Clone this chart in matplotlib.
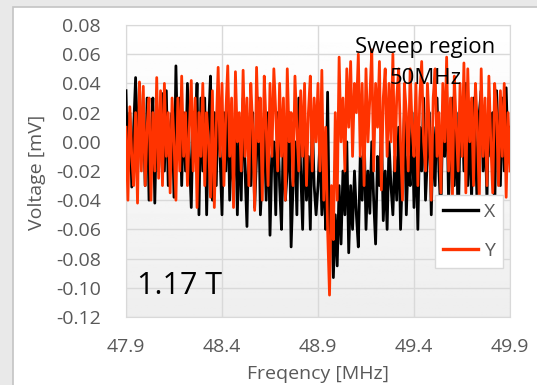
import numpy as np
import matplotlib.pyplot as plt
from matplotlib.patches import Rectangle

plt.rcParams['font.family'] = ['Open Sans', 'DejaVu Sans']

# frequency axis, 10 kHz steps
freq = np.round(np.arange(47.9, 49.9001, 0.01), 2)

x_sig = [
    0.035, -0.02, 0.02, -0.031, 0.01, 0.044, -0.025, 0.04, -0.01, 0.02,
    -0.03, 0.03, -0.04, 0.00, 0.03, -0.042, 0.02, -0.02, 0.01, 0.033,
    -0.02, 0.035, -0.03, 0.01, 0.02, -0.038, 0.052, -0.01, 0.03, -0.03,
    0.02, -0.02, 0.04, -0.01, -0.045, 0.02, 0.00, 0.04, -0.05, 0.03,
    -0.02, 0.03, -0.05, 0.01, 0.045, -0.04, 0.02, -0.03, 0.03, -0.01,
    -0.05, 0.02, -0.02, 0.03, -0.04, 0.00, -0.03, 0.02, -0.05, 0.01,
    -0.04, 0.03, -0.02, -0.058, 0.01, -0.03, 0.02, -0.045, -0.01, 0.03,
    -0.05, -0.02, 0.01, -0.04, 0.02, -0.064, -0.01, 0.00, -0.05, 0.02,
    -0.03, -0.06, 0.01, -0.04, -0.02, 0.02, -0.072, -0.03, 0.00, -0.05,
    0.03, -0.02, -0.06, 0.01, -0.04, -0.01, -0.06, 0.02, -0.03, -0.05,
    -0.03, 0.00, -0.05, -0.02, -0.06, 0.034, -0.07, -0.04, -0.093, -0.05,
    -0.085, -0.03, -0.07, -0.02, -0.05, 0.00, -0.076, -0.03, -0.06, -0.02,
    -0.05, -0.072, -0.01, -0.04, 0.01, -0.06, -0.02, -0.049, 0.00, -0.04,
    -0.07, -0.01, -0.03, 0.01, -0.054, -0.02, -0.06, 0.00, -0.03, -0.05,
    -0.01, -0.04, 0.01, -0.06, -0.02, 0.02, -0.05, -0.01, -0.03, 0.02,
    -0.045, 0.00, -0.06, 0.01, -0.02, 0.03, -0.04, -0.01, 0.02, -0.05,
    0.01, -0.03, 0.03, -0.02, -0.05, 0.02, -0.01, 0.035, -0.04, 0.00,
    0.03, -0.03, 0.02, -0.06, 0.01, 0.03, -0.02, 0.04, -0.03, 0.01,
    -0.04, 0.03, 0.00, -0.05, 0.02, 0.035, -0.02, 0.01, -0.04, 0.03,
    -0.01, 0.02, -0.05, 0.035, 0.00, -0.03, 0.03, -0.02, 0.037, -0.01,
    0.01,
]

y_sig = [
    0.01, -0.04, 0.024, -0.01, -0.03, 0.02, -0.042, 0.041, -0.02, 0.038,
    -0.03, 0.01, 0.03, -0.04, 0.02, -0.02, 0.044, -0.025, 0.035, -0.03,
    0.04, -0.01, 0.02, -0.035, 0.03, 0.00, -0.04, 0.03, -0.02, 0.045,
    -0.01, 0.02, -0.03, 0.01, 0.042, -0.02, 0.03, -0.045, 0.02, -0.01,
    0.04, -0.03, 0.02, 0.00, -0.038, 0.035, -0.045, 0.01, 0.051, -0.01,
    0.04, -0.03, 0.02, 0.052, -0.01, 0.03, -0.045, 0.048, 0.00, 0.02,
    -0.02, 0.049, -0.01, 0.03, -0.03, 0.04, 0.01, -0.047, 0.051, 0.00,
    0.03, -0.04, 0.045, 0.01, -0.03, 0.04, -0.01, 0.05, 0.02, -0.02,
    0.04, -0.01, 0.03, -0.04, 0.05, 0.00, 0.02, -0.03, 0.045, 0.01,
    -0.02, 0.035, -0.01, 0.04, -0.03, 0.02, 0.045, -0.02, 0.03, 0.00,
    0.04, -0.02, 0.049, -0.04, 0.01, -0.06, -0.105, -0.03, -0.067, 0.02,
    -0.04, 0.058, 0.00, 0.03, -0.02, 0.05, 0.01, 0.055, -0.01, 0.04,
    0.02, 0.06, -0.01, 0.04, -0.03, 0.05, 0.00, 0.03, 0.063, -0.02,
    0.04, 0.01, 0.055, -0.033, 0.03, 0.05, -0.01, 0.04, 0.00, 0.06,
    -0.02, 0.03, 0.05, 0.00, -0.04, 0.04, 0.02, -0.02, 0.05, 0.01,
    -0.01, 0.04, -0.03, 0.03, 0.055, 0.00, -0.02, 0.04, 0.01, -0.04,
    0.03, 0.05, -0.01, 0.02, -0.035, 0.04, 0.00, 0.058, -0.02, 0.03,
    -0.04, 0.045, 0.01, -0.02, 0.04, -0.01, 0.054, -0.035, 0.05, 0.00,
    0.03, -0.03, 0.04, 0.01, -0.04, 0.05, -0.01, 0.03, -0.03, 0.045,
    0.00, -0.035, 0.04, 0.02, -0.03, 0.035, -0.01, 0.04, -0.038, 0.02,
    -0.02,
]

x_ticks = [47.9, 48.4, 48.9, 49.4, 49.9]
y_ticks = [-0.12, -0.10, -0.08, -0.06, -0.04, -0.02, 0.00, 0.02, 0.04, 0.06, 0.08]

W, H = 537, 385
fig = plt.figure(figsize=(W / 100, H / 100), dpi=100, facecolor='#e9e9e9')

# white chart frame, kept behind the axes
fig.patches.append(Rectangle((13 / W, -0.01), 1, 1.01 - 7 / H, transform=fig.transFigure,
                             facecolor='white', edgecolor='#c4c4c4', lw=1.2, zorder=-10))

ax = fig.add_axes([126 / W, 1 - 317 / H, (510 - 126) / W, (317 - 25) / H])
ax.patch.set_alpha(0)

# plot-area shading, white at the top fading to light grey
grad = np.linspace(1.0, 0.0, 256).reshape(-1, 1)
ax.imshow(grad, extent=[47.9, 49.9, -0.12, 0.08], aspect='auto', cmap='gray',
          vmin=-14, vmax=1, zorder=0, origin='upper')

ax.plot(freq, x_sig, color='black', lw=2.0, label='X', zorder=3)
ax.plot(freq, y_sig, color='#ff3300', lw=2.0, label='Y', zorder=4)

ax.set_xlim(47.9, 49.9)
ax.set_ylim(-0.12, 0.08)
ax.set_xticks(x_ticks)
ax.set_xticklabels([f'{t:.1f}' for t in x_ticks])
ax.set_yticks(y_ticks)
ax.set_yticklabels([f'{t:.2f}' for t in y_ticks])
ax.grid(True, color='#d9d9d9', lw=1, zorder=1)
ax.set_axisbelow(True)
ax.tick_params(length=0, labelsize=14, colors='#595959')
ax.tick_params(axis='y', pad=18)
ax.tick_params(axis='x', pad=15)
for s in ax.spines.values():
    s.set_color('#d9d9d9')

fig.text(318 / W, 1 - 374 / H, 'Freqency [MHz]', ha='center', va='center',
         fontsize=14, color='#595959')
fig.text(37 / W, 1 - 172 / H, 'Voltage [mV]', ha='center', va='center',
         rotation=90, fontsize=14, color='#595959')

fig.text(425 / W, 1 - 47 / H, 'Sweep region', ha='center', va='center',
         fontsize=16, color='black', zorder=6)
fig.text(426 / W, 1 - 79 / H, '50MHz', ha='center', va='center',
         fontsize=16, color='black', zorder=6)
fig.text(137 / W, 1 - 286 / H, '1.17 T', ha='left', va='center',
         fontsize=22, color='black', zorder=6)

leg = ax.legend(loc='upper left', bbox_to_anchor=((435 - 126) / 384, (317 - 195) / 292),
                borderaxespad=0, frameon=True, fancybox=False, framealpha=1,
                fontsize=14, handlelength=1.8, labelspacing=1.1, borderpad=0.4,
                handletextpad=0.3)
leg.get_frame().set_edgecolor('#d9d9d9')
leg.get_frame().set_linewidth(1)
for t in leg.get_texts():
    t.set_color('#595959')
for l in leg.get_lines():
    l.set_linewidth(2.4)
leg.set_zorder(7)

fig.savefig('out.png', dpi=100, facecolor=fig.get_facecolor())
